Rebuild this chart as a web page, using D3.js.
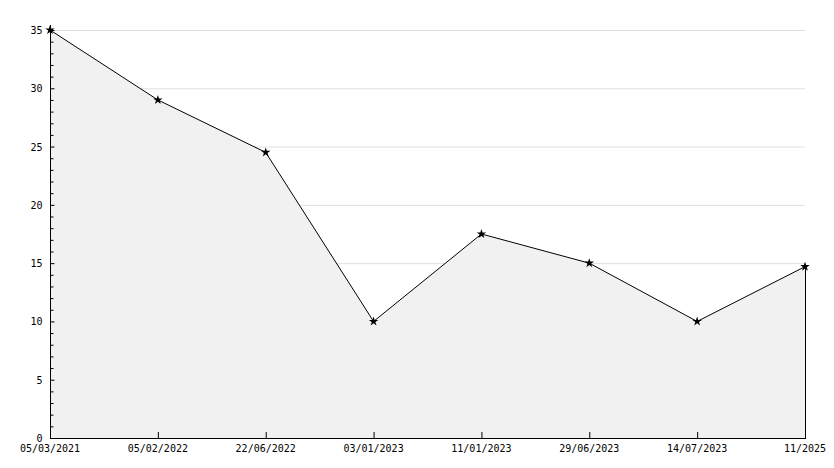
<!DOCTYPE html>
<html><head><meta charset="utf-8">
<script src="https://cdn.jsdelivr.net/npm/d3@7"></script>
<style>body{margin:0;background:#fff}</style></head>
<body><svg id="c" width="834" height="468"></svg>
<script>
const categories=["05/03/2021","05/02/2022","22/06/2022","03/01/2023","11/01/2023","29/06/2023","14/07/2023","11/2025"];
const values=[35,29,24.5,10,17.5,15,10,14.7];
const yTicks=[0,5,10,15,20,25,30,35];
const yMinor=d3.range(0,36,1);
const svg=d3.select("#c");
const L=50,R=805,T=30,B=438;
const x=d3.scalePoint().domain(categories).range([L,R]);
const y=d3.scaleLinear().domain([0,35]).range([B,T]);
const font="'DejaVu Sans Mono', monospace";
// grid
svg.append("g").selectAll("line").data(yTicks.filter(d=>d>0)).join("line")
 .attr("x1",L).attr("x2",R).attr("y1",d=>y(d)+0.5).attr("y2",d=>y(d)+0.5)
 .attr("stroke","#e0e0e0");
// area
svg.append("path").datum(values).attr("fill","#f1f1f1")
 .attr("d",d3.area().x((d,i)=>x(categories[i])).y0(B).y1(d=>y(d)));
// right edge
svg.append("line").attr("x1",R+0.5).attr("x2",R+0.5).attr("y1",y(values[values.length-1])).attr("y2",B).attr("stroke","#000");
// line
svg.append("path").datum(values).attr("fill","none").attr("stroke","#000").attr("stroke-width",1)
 .attr("d",d3.line().x((d,i)=>x(categories[i])).y(d=>y(d)));
// markers
svg.append("g").selectAll("path").data(values).join("path")
 .attr("transform",(d,i)=>`translate(${x(categories[i])},${y(d)})`)
 .attr("d",d3.symbol(d3.symbolStar,28)).attr("fill","#000");
// y axis
const ya=svg.append("g").attr("transform",`translate(${L+0.5},0)`);
ya.append("line").attr("y1",T-5).attr("y2",B+0.5).attr("stroke","#000");
ya.selectAll(".mn").data(yMinor).join("line").attr("x1",0).attr("x2",d=>d%5===0?4:3)
 .attr("y1",d=>y(d)+0.5).attr("y2",d=>y(d)+0.5).attr("stroke","#000");
ya.selectAll("text").data(yTicks).join("text").attr("x",-8).attr("y",d=>y(d)+4)
 .attr("text-anchor","end").attr("font-family",font).attr("font-size",10).text(d=>d);
// x axis
const xa=svg.append("g");
xa.append("line").attr("x1",L).attr("x2",R+1).attr("y1",B+0.5).attr("y2",B+0.5).attr("stroke","#000");
xa.selectAll(".t").data(categories).join("line").attr("x1",d=>x(d)+0.5).attr("x2",d=>x(d)+0.5)
 .attr("y1",B).attr("y2",B-6).attr("stroke","#000");
xa.selectAll("text").data(categories).join("text").attr("x",d=>x(d)).attr("y",B+14)
 .attr("text-anchor","middle").attr("font-family",font).attr("font-size",10).text(d=>d);
</script></body></html>
